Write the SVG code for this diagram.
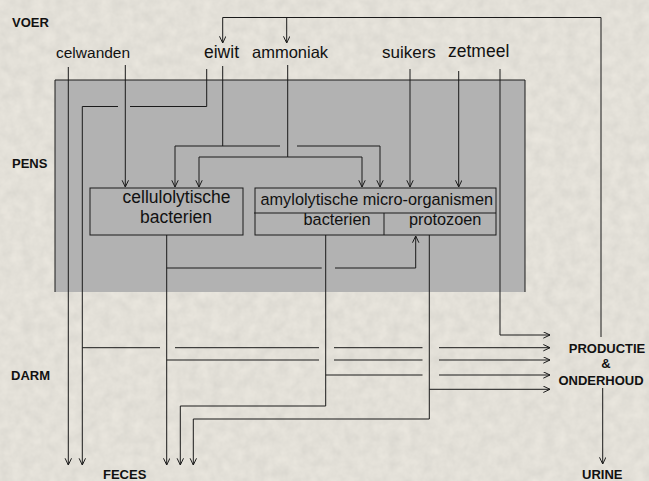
<svg xmlns="http://www.w3.org/2000/svg" width="649" height="481" viewBox="0 0 649 481">
<defs>
<marker id="arr" markerWidth="8" markerHeight="8" refX="7" refY="3.5" orient="auto" markerUnits="userSpaceOnUse">
<path d="M0.3,0.3 L7,3.5 L0.3,6.7" fill="none" stroke="#1a1a1a" stroke-width="1"/>
</marker>
<filter id="tex" x="0" y="0" width="100%" height="100%">
<feTurbulence type="fractalNoise" baseFrequency="0.09" numOctaves="3" seed="4"/>
<feColorMatrix type="matrix" values="0.3 0 0 0 0.62  0.28 0 0 0 0.6  0.25 0 0 0 0.55  0 0 0 0 0.5"/>
</filter>
<style>
.ln{fill:none;stroke:#1a1a1a;stroke-width:1}
.lab{font-family:"Liberation Sans",Arial,sans-serif;fill:#111}
.b{font-weight:bold;font-size:13px}
.box{fill:none;stroke:#1a1a1a;stroke-width:1}
</style>
</defs>
<rect x="0" y="0" width="649" height="481" fill="#e2e0d9"/>
<rect x="0" y="0" width="649" height="481" filter="url(#tex)"/>

<g id="pens-panel">
<rect x="55" y="80" width="470" height="212" fill="#b2b2b2"/>
<path class="ln" d="M55,292 V80 H525 V292"/>
</g>

<g id="labels-zones">
<text class="lab b" x="12" y="26.5">VOER</text>
<text class="lab b" x="12" y="168">PENS</text>
<text class="lab b" x="11" y="380">DARM</text>
</g>

<g id="node-celwanden"><text class="lab" x="56" y="58" font-size="15.5">celwanden</text></g>
<g id="node-eiwit"><text class="lab" x="204" y="58" font-size="17.5">eiwit</text></g>
<g id="node-ammoniak"><text class="lab" x="252" y="58" font-size="16.5">ammoniak</text></g>
<g id="node-suikers"><text class="lab" x="382" y="58" font-size="17">suikers</text></g>
<g id="node-zetmeel"><text class="lab" x="448" y="57" font-size="17.5">zetmeel</text></g>

<g id="node-cellulolytisch">
<rect class="box" x="90" y="188" width="153" height="47"/>
<text class="lab" x="176.5" y="203" font-size="17.5" text-anchor="middle">cellulolytische</text>
<text class="lab" x="176" y="222.5" font-size="17.5" text-anchor="middle">bacterien</text>
</g>

<g id="node-amylolytisch">
<rect class="box" x="255" y="188" width="241" height="47"/>
<path class="ln" d="M254,213 H496 M384,213 V235"/>
<text class="lab" x="260.5" y="205" font-size="16.3">amylolytische micro-organismen</text>
<text class="lab" x="370.5" y="225" font-size="16.3" text-anchor="end">bacterien</text>
<text class="lab" x="409" y="225" font-size="16.3">protozoen</text>
</g>

<g id="node-productie">
<text class="lab b" x="607" y="353" text-anchor="middle" font-size="13.5">PRODUCTIE</text>
<text class="lab b" x="606" y="368" text-anchor="middle" font-size="13.5">&amp;</text>
<text class="lab b" x="601" y="385" text-anchor="middle" font-size="13.5">ONDERHOUD</text>
</g>

<g id="node-feces"><text class="lab b" x="103" y="479">FECES</text></g>
<g id="node-urine"><text class="lab b" x="582" y="479">URINE</text></g>

<g id="connectors">
<path class="ln" d="M601,337 V17.5 H222.7 V43" marker-end="url(#arr)"/>
<path class="ln" d="M286.7,17.5 V43" marker-end="url(#arr)"/>

<path class="ln" d="M68.3,67 V465" marker-end="url(#arr)"/>
<path class="ln" d="M125.3,65 V187" marker-end="url(#arr)"/>

<path class="ln" d="M206.7,69 V106.5 H130"/>
<path class="ln" d="M118,106.5 H82.3 V465" marker-end="url(#arr)"/>
<path class="ln" d="M82.3,347.7 H160 M175,347.7 H319 M334,347.7 H422.5"/>
<path class="ln" d="M439,347.7 H550" marker-end="url(#arr)"/>

<path class="ln" d="M222.7,66 V146"/>
<path class="ln" d="M280,146 H175 V187" marker-end="url(#arr)"/>
<path class="ln" d="M297,146 H380 V187" marker-end="url(#arr)"/>

<path class="ln" d="M287.7,65 V157"/>
<path class="ln" d="M287.7,157 H199 V187" marker-end="url(#arr)"/>
<path class="ln" d="M287.7,157 H362 V187" marker-end="url(#arr)"/>

<path class="ln" d="M410,69 V187" marker-end="url(#arr)"/>
<path class="ln" d="M458.7,71 V187" marker-end="url(#arr)"/>
<path class="ln" d="M500,69 V335 H550" marker-end="url(#arr)"/>

<path class="ln" d="M166.7,235 V465" marker-end="url(#arr)"/>
<path class="ln" d="M166.7,268 H321.7"/>
<path class="ln" d="M335,268 H415.7 V236" marker-end="url(#arr)"/>
<path class="ln" d="M166.7,360 H319 M334,360 H422.5"/>
<path class="ln" d="M439,360 H550" marker-end="url(#arr)"/>

<path class="ln" d="M325.7,235 V406 H180.3 V465" marker-end="url(#arr)"/>
<path class="ln" d="M325.7,375 H422.5"/>
<path class="ln" d="M439,375 H550" marker-end="url(#arr)"/>

<path class="ln" d="M429.3,235 V419 H193.3 V465" marker-end="url(#arr)"/>
<path class="ln" d="M429.3,389.3 H550" marker-end="url(#arr)"/>

<path class="ln" d="M602.7,388 V464" marker-end="url(#arr)"/>
</g>
</svg>
